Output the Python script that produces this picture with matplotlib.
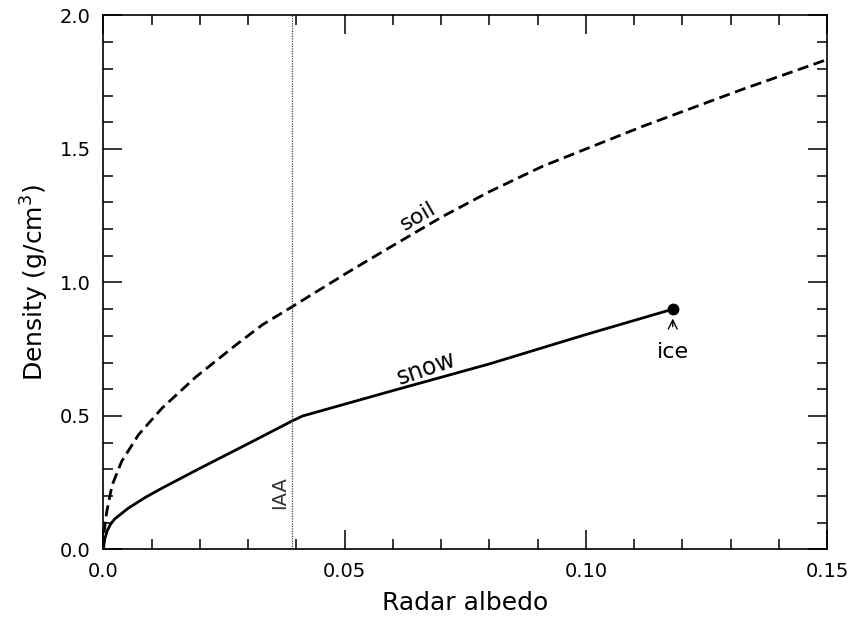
import matplotlib.pyplot as plt
from matplotlib.ticker import MultipleLocator, FixedLocator, FixedFormatter

plt.rcParams['font.family'] = ['DejaVu Sans']

# density vs radar albedo
snow_x = [0.0, 0.0003, 0.0008, 0.0015, 0.0024, 0.0052, 0.0087, 0.0122, 0.0198, 0.0302,
          0.0392, 0.0413, 0.06, 0.08, 0.10, 0.118]
snow_y = [0.0, 0.04, 0.07, 0.095, 0.115, 0.155, 0.195, 0.23, 0.302, 0.398,
          0.482, 0.50, 0.595, 0.695, 0.805, 0.90]
soil_x = [0.0, 0.0002, 0.0007, 0.0018, 0.0038, 0.0073, 0.0122, 0.0191, 0.0274, 0.033,
          0.0392, 0.0504, 0.0583, 0.0701, 0.08, 0.091, 0.10, 0.1118, 0.1327, 0.15]
soil_y = [0.0, 0.07, 0.14, 0.24, 0.33, 0.43, 0.53, 0.645, 0.765, 0.842,
          0.91, 1.035, 1.12, 1.245, 1.34, 1.435, 1.50, 1.585, 1.725, 1.835]
ice_x = 0.118
ice_y = 0.90
iaa_x = 0.039

xticks = [0.0, 0.05, 0.10, 0.15]
xlabels = ['0.0', '0.05', '0.10', '0.15']
yticks = [0.0, 0.5, 1.0, 1.5, 2.0]
ylabels = ['0.0', '0.5', '1.0', '1.5', '2.0']

fig = plt.figure(figsize=(8.51, 6.24), dpi=100)
ax = fig.add_axes([0.1214, 0.1194, 0.8506, 0.8558])

ax.plot(soil_x, soil_y, color='black', lw=2, linestyle=(0, (4, 2)))
ax.plot(snow_x, snow_y, color='black', lw=2)
ax.plot([ice_x], [ice_y], 'o', color='black', markersize=7.5)
ax.axvline(iaa_x, color='0.25', lw=0.9, linestyle=(0, (1, 1)))

ax.text(0.0653, 1.246, 'soil', rotation=30, ha='center', va='center', fontsize=16)
ax.text(0.067, 0.679, 'snow', rotation=19, ha='center', va='center', fontsize=17)
ax.text(0.0366, 0.215, 'IAA', rotation=90, ha='center', va='center', fontsize=14,
        color='0.2')
ax.annotate('ice', xy=(ice_x, 0.865), xytext=(ice_x, 0.74), ha='center', va='center',
            fontsize=16, arrowprops=dict(arrowstyle='->', color='black', lw=1,
                                         shrinkA=9, shrinkB=0))

ax.set_xlim(0, 0.15)
ax.set_ylim(0, 2.0)
ax.xaxis.set_major_locator(FixedLocator(xticks))
ax.xaxis.set_major_formatter(FixedFormatter(xlabels))
ax.yaxis.set_major_locator(FixedLocator(yticks))
ax.yaxis.set_major_formatter(FixedFormatter(ylabels))
ax.xaxis.set_minor_locator(MultipleLocator(0.01))
ax.yaxis.set_minor_locator(MultipleLocator(0.1))
ax.tick_params(which='both', direction='in', top=True, right=True, width=1.1)
ax.tick_params(which='major', length=14, labelsize=14, pad=9)
ax.tick_params(which='minor', length=7)
for s in ax.spines.values():
    s.set_linewidth(1.2)

ax.set_xlabel('Radar albedo', fontsize=18, labelpad=7)
ax.set_ylabel('Density (g/cm$^3$)', fontsize=18, labelpad=6)

fig.savefig('out.png', dpi=100)
